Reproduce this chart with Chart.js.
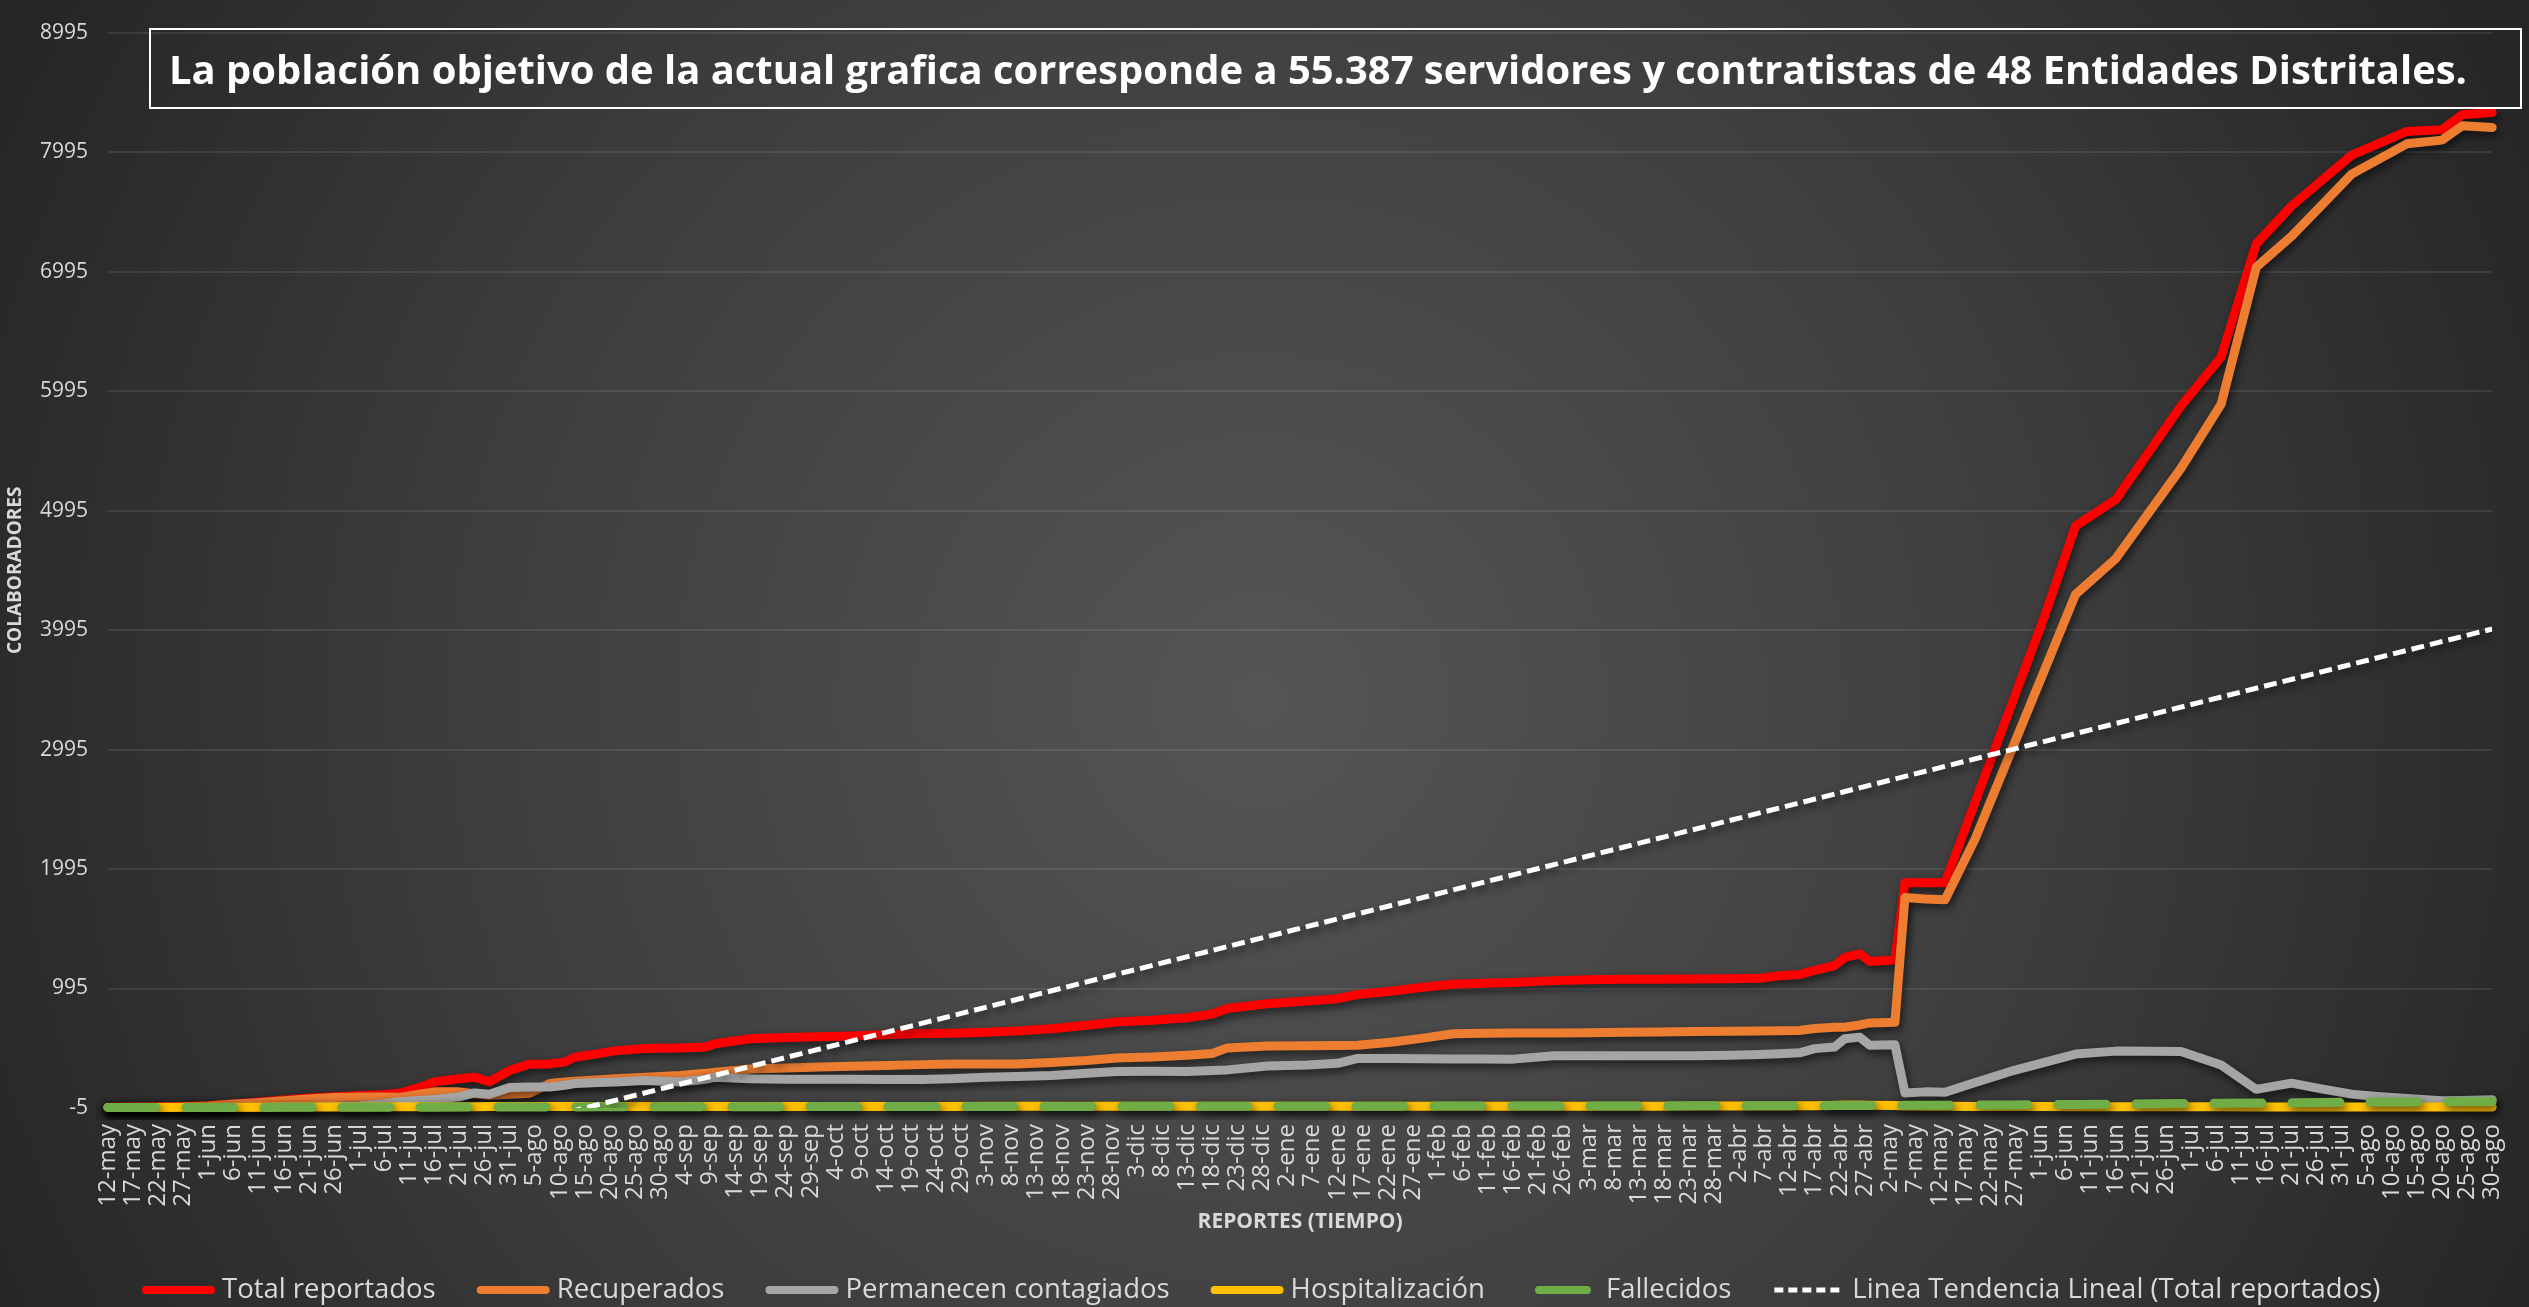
<!DOCTYPE html>
<html lang="es">
<head>
<meta charset="utf-8">
<title>Colaboradores reportados</title>
<script src="https://cdn.jsdelivr.net/npm/chart.js@4.4.1/dist/chart.umd.min.js"></script>
<style>
  html, body { margin: 0; padding: 0; background: #2b2b2b; }
  #wrap { width: 2529px; height: 1307px; }
</style>
</head>
<body>
<div id="wrap"><canvas id="chart" width="2529" height="1307"></canvas></div>
<script>
// etiquetas del eje X (cada 5 dias desde 12-may-2020)
const xLabels = [
  '12-may', '17-may', '22-may', '27-may', '1-jun', '6-jun', '11-jun', '16-jun', '21-jun', '26-jun',
  '1-jul', '6-jul', '11-jul', '16-jul', '21-jul', '26-jul', '31-jul', '5-ago', '10-ago', '15-ago',
  '20-ago', '25-ago', '30-ago', '4-sep', '9-sep', '14-sep', '19-sep', '24-sep', '29-sep', '4-oct',
  '9-oct', '14-oct', '19-oct', '24-oct', '29-oct', '3-nov', '8-nov', '13-nov', '18-nov', '23-nov',
  '28-nov', '3-dic', '8-dic', '13-dic', '18-dic', '23-dic', '28-dic', '2-ene', '7-ene', '12-ene',
  '17-ene', '22-ene', '27-ene', '1-feb', '6-feb', '11-feb', '16-feb', '21-feb', '26-feb', '3-mar',
  '8-mar', '13-mar', '18-mar', '23-mar', '28-mar', '2-abr', '7-abr', '12-abr', '17-abr', '22-abr',
  '27-abr', '2-may', '7-may', '12-may', '17-may', '22-may', '27-may', '1-jun', '6-jun', '11-jun',
  '16-jun', '21-jun', '26-jun', '1-jul', '6-jul', '11-jul', '16-jul', '21-jul', '26-jul', '31-jul',
  '5-ago', '10-ago', '15-ago', '20-ago', '25-ago', '30-ago'
]
const yTicks = [-5, 995, 1995, 2995, 3995, 4995, 5995, 6995, 7995, 8995]

// dias desde el 12-may-2020 de cada reporte
const reportDays = [
  0, 5, 10, 15, 20, 25, 30, 35, 40, 45, 50, 55, 58, 62, 65, 70, 73, 76, 80, 84,
  88, 91, 93, 98, 101, 107, 114, 119, 121, 128, 135, 142, 148, 155, 162, 168, 175, 181, 188, 195,
  201, 208, 215, 220, 223, 231, 239, 245, 249, 256, 262, 268, 274, 280, 288, 295, 302, 309, 316, 323,
  329, 333, 337, 340, 344, 346, 349, 351, 356, 358, 362, 366, 372, 379, 386, 392, 400, 407, 413, 421,
  428, 435, 441, 447, 452, 458, 465, 469, 475
]
const totalReportados = [
  2, 3, 5, 8, 15, 28, 45, 62, 78, 90, 100, 108, 118, 165, 212, 240, 253, 215, 309, 362,
  364, 380, 420, 452, 473, 493, 498, 505, 533, 575, 585, 592, 597, 608, 618, 620, 628, 640, 658, 688,
  715, 730, 750, 781, 827, 868, 890, 910, 945, 975, 1005, 1030, 1040, 1045, 1061, 1069, 1072, 1073, 1075, 1077,
  1080, 1102, 1112, 1146, 1187, 1255, 1285, 1222, 1234, 1880, 1880, 1880, 2556, 3345, 4133, 4866, 5087, 5508, 5870, 6280,
  7227, 7543, 7756, 7969, 8059, 8168, 8181, 8307, 8326
]
const recuperados = [
  0, 1, 2, 4, 12, 28, 40, 56, 70, 82, 88, 88, 84, 110, 130, 130, 115, 102, 110, 118,
  200, 212, 218, 232, 240, 253, 268, 285, 295, 322, 330, 338, 344, 350, 358, 364, 364, 364, 375, 392,
  413, 422, 437, 451, 498, 514, 517, 519, 521, 547, 580, 616, 621, 622, 623, 624, 628, 632, 635, 638,
  640, 641, 643, 660, 671, 671, 690, 707, 712, 1756, 1745, 1737, 2248, 2964, 3680, 4294, 4592, 5000, 5349, 5886,
  7032, 7290, 7550, 7811, 7926, 8064, 8095, 8215, 8200
]
const permanecenContagiados = [
  0, 0, 0, 0, 0, 1, 2, 3, 5, 8, 14, 30, 47, 58, 67, 88, 121, 110, 166, 170,
  171, 185, 200, 208, 212, 226, 212, 235, 253, 240, 236, 235, 235, 234, 234, 240, 253, 258, 267, 285,
  300, 303, 300, 308, 314, 347, 355, 369, 410, 409, 407, 406, 405, 404, 432, 432, 432, 432, 432, 436,
  443, 450, 457, 492, 506, 575, 588, 520, 525, 121, 130, 126, 209, 301, 379, 446, 471, 470, 468, 355,
  151, 203, 155, 111, 92, 74, 56, 58, 65
]
const hospitalizacion = [
  0, 0, 0, 1, 1, 2, 2, 3, 3, 4, 4, 5, 5, 5, 6, 6, 6, 7, 7, 7,
  7, 8, 8, 8, 8, 8, 8, 8, 8, 8, 8, 8, 8, 8, 8, 8, 9, 9, 9, 9,
  9, 9, 9, 9, 10, 10, 10, 10, 10, 10, 10, 10, 10, 10, 10, 10, 10, 10, 11, 11,
  11, 12, 13, 14, 18, 20, 20, 18, 15, 12, 10, 9, 8, 7, 7, 6, 6, 5, 5, 5,
  4, 4, 4, 3, 3, 3, 3, 3, 3
]
const fallecidos = [
  0, 0, 0, 0, 0, 0, 0, 1, 1, 1, 1, 2, 2, 2, 2, 3, 3, 3, 3, 4,
  4, 4, 4, 5, 5, 5, 5, 6, 6, 6, 6, 7, 7, 7, 7, 8, 8, 8, 8, 8,
  9, 9, 9, 9, 9, 10, 10, 10, 10, 10, 11, 11, 11, 11, 12, 12, 12, 12, 13, 13,
  13, 14, 14, 14, 15, 15, 15, 16, 16, 17, 17, 18, 19, 21, 23, 25, 27, 30, 33, 35,
  37, 39, 41, 43, 45, 46, 48, 49, 50
]
// linea de tendencia (extremos)
const trendDays = [0, 475]
const trendValues = [-1007, 4004]

const titleText = 'La población objetivo de la actual grafica corresponde a 55.387 servidores y contratistas de 48 Entidades Distritales.'

const toPoints = (days, values) => days.map((d, i) => ({ x: d, y: values[i] }))

Chart.defaults.font.family = '"Open Sans", sans-serif'
Chart.defaults.color = '#d9d9d9'

const backgroundPlugin = {
  id: 'background',
  beforeDraw(chart) {
    const { ctx, width, height } = chart
    const g = ctx.createRadialGradient(1260, 700, 0, 1260, 700, 1400)
    g.addColorStop(0, '#555555')
    g.addColorStop(0.55, '#3e3e3e')
    g.addColorStop(1, '#262626')
    ctx.save()
    ctx.fillStyle = g
    ctx.fillRect(0, 0, width, height)
    ctx.restore()
  },
}

// sombra de las lineas, como en Excel
const shadowPlugin = {
  id: 'lineShadow',
  beforeDatasetDraw(chart) {
    const ctx = chart.ctx
    ctx.save()
    ctx.shadowColor = 'rgba(0, 0, 0, 0.6)'
    ctx.shadowBlur = 8
    ctx.shadowOffsetX = 2
    ctx.shadowOffsetY = 4
  },
  afterDatasetDraw(chart) {
    chart.ctx.restore()
  },
}

const overlayPlugin = {
  id: 'overlay',
  afterDraw(chart) {
    const ctx = chart.ctx
    const area = chart.chartArea
    ctx.save()

    // cuadro del titulo
    ctx.strokeStyle = '#ffffff'
    ctx.lineWidth = 2
    ctx.strokeRect(150, 29, 2371, 79)
    ctx.font = 'bold 40px "Open Sans", sans-serif'
    const w = ctx.measureText(titleText).width
    ctx.save()
    ctx.translate(169, 84)
    ctx.scale(2298 / w, 1)
    ctx.fillStyle = '#ffffff'
    ctx.textBaseline = 'alphabetic'
    ctx.fillText(titleText, 0, 0)
    ctx.restore()

    // titulos de ejes
    ctx.fillStyle = '#d9d9d9'
    ctx.font = 'bold 21px "Open Sans", sans-serif'
    ctx.textAlign = 'center'
    ctx.textBaseline = 'middle'
    ctx.fillText('REPORTES (TIEMPO)', (area.left + area.right) / 2, 1222)
    ctx.font = 'bold 19px "Open Sans", sans-serif'
    ctx.save()
    ctx.translate(16, (area.top + area.bottom) / 2)
    ctx.rotate(-Math.PI / 2)
    ctx.fillText('COLABORADORES', 0, 0)
    ctx.restore()

    // leyenda
    ctx.font = '27.5px "Open Sans", sans-serif'
    ctx.textAlign = 'left'
    let x = 142
    const y = 1290
    chart.data.datasets.forEach(ds => {
      ctx.save()
      ctx.strokeStyle = ds.borderColor
      if (ds.label.startsWith('Linea')) {
        ctx.lineWidth = 5
        ctx.setLineDash([9, 5])
        ctx.beginPath()
        ctx.moveTo(x + 2, y)
        ctx.lineTo(x + 72, y)
        ctx.stroke()
      } else if (ds.borderDash) {
        ctx.lineWidth = 8
        ctx.lineCap = 'round'
        ctx.beginPath()
        ctx.moveTo(x + 13, y)
        ctx.lineTo(x + 61, y)
        ctx.stroke()
      } else {
        ctx.lineWidth = 8
        ctx.lineCap = 'round'
        ctx.beginPath()
        ctx.moveTo(x + 4, y)
        ctx.lineTo(x + 69, y)
        ctx.stroke()
      }
      ctx.restore()
      const tx = x + 80
      ctx.fillStyle = '#d9d9d9'
      ctx.fillText(ds.label, tx, y)
      x = tx + ctx.measureText(ds.label).width + 41
    })
    ctx.restore()
  },
}

const lineStyle = { borderWidth: 9, pointRadius: 0, borderCapStyle: 'round', borderJoinStyle: 'round', clip: 12 }

new Chart(document.getElementById('chart'), {
  type: 'line',
  data: {
    datasets: [
      { ...lineStyle, label: 'Total reportados', data: toPoints(reportDays, totalReportados), borderColor: '#ff0000', order: 6 },
      { ...lineStyle, label: 'Recuperados', data: toPoints(reportDays, recuperados), borderColor: '#ed7d31', order: 5 },
      { ...lineStyle, label: 'Permanecen contagiados', data: toPoints(reportDays, permanecenContagiados), borderColor: '#a5a5a5', order: 4 },
      { ...lineStyle, label: 'Hospitalización', data: toPoints(reportDays, hospitalizacion), borderColor: '#ffc000', order: 3 },
      { ...lineStyle, label: 'Fallecidos', data: toPoints(reportDays, fallecidos), borderColor: '#70ad47', borderDash: [48, 30], order: 2 },
      {
        label: 'Linea Tendencia Lineal (Total reportados)',
        data: toPoints(trendDays, trendValues),
        borderColor: '#ffffff',
        borderWidth: 5,
        borderDash: [13, 6],
        pointRadius: 0,
        clip: 0,
        order: 1,
      },
    ],
  },
  options: {
    responsive: false,
    animation: false,
    events: [],
    layout: { padding: { top: 18, right: 9, left: 0, bottom: 0 } },
    plugins: {
      legend: { display: false },
      tooltip: { enabled: false },
    },
    scales: {
      x: {
        type: 'linear',
        min: 0,
        max: 475,
        grid: { display: false },
        border: { display: false },
        afterBuildTicks: scale => {
          scale.ticks = xLabels.map((_, i) => ({ value: i * 5 }))
        },
        afterFit: scale => {
          scale.height = 199
        },
        ticks: {
          autoSkip: false,
          minRotation: 90,
          maxRotation: 90,
          padding: 8,
          color: '#d9d9d9',
          font: { size: 24 },
          callback: (value, index) => xLabels[index],
        },
      },
      y: {
        min: -5,
        max: 8995,
        afterBuildTicks: scale => {
          scale.ticks = yTicks.map(v => ({ value: v }))
        },
        afterFit: scale => {
          scale.width = 108
        },
        grid: { color: 'rgba(255, 255, 255, 0.09)', lineWidth: 2, drawTicks: false },
        border: { display: false },
        ticks: {
          padding: 20,
          color: '#d9d9d9',
          font: { size: 21 },
          callback: value => String(value),
        },
      },
    },
  },
  plugins: [backgroundPlugin, shadowPlugin, overlayPlugin],
})
</script>
</body>
</html>
